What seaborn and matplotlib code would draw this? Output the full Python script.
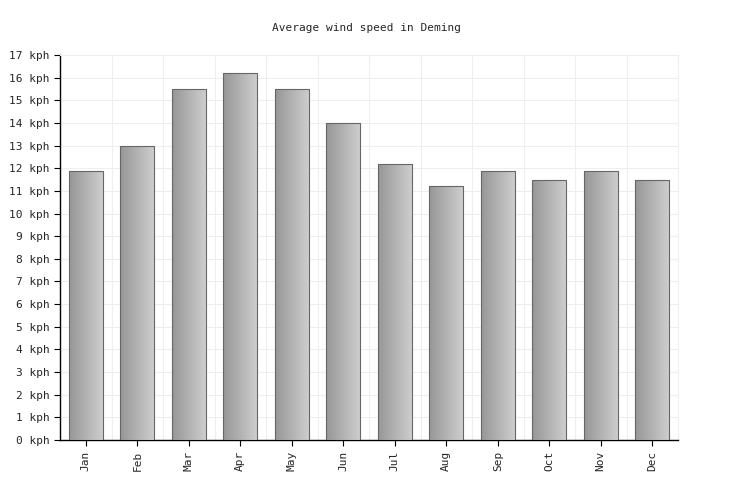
import matplotlib
matplotlib.use("Agg")
import matplotlib.pyplot as plt
import seaborn as sns
import numpy as np
import pandas as pd

months = ['Jan', 'Feb', 'Mar', 'Apr', 'May', 'Jun', 'Jul', 'Aug', 'Sep', 'Oct', 'Nov', 'Dec']
wind_kph = [11.9, 13.0, 15.5, 16.2, 15.5, 14.0, 12.2, 11.2, 11.9, 11.5, 11.9, 11.5]
yticks = list(range(0, 18))

df = pd.DataFrame({'month': months, 'wind': wind_kph})

sns.set_style('white')
plt.rcParams['font.family'] = ['DejaVu Sans Mono']

fig = plt.figure(figsize=(7.36, 5), dpi=100)
ax = fig.add_axes([60 / 736, 60 / 500, 618 / 736, 385 / 500])

sns.barplot(data=df, x='month', y='wind', color='#aaaaaa', width=0.66,
            edgecolor='#666666', linewidth=0.8, ax=ax, zorder=3)

# horizontal gradient inside each bar
grad = np.linspace(0, 1, 64).reshape(1, -1)
cmap = matplotlib.colors.LinearSegmentedColormap.from_list('g', ['#979797', '#cdcdcd'])
for p in ax.patches:
    x0, y0 = p.get_x(), p.get_y()
    w, h = p.get_width(), p.get_height()
    im = ax.imshow(grad, cmap=cmap, aspect='auto', extent=[x0, x0 + w, y0, y0 + h], zorder=3.5)
    im.set_clip_path(p)
    p.set_facecolor('none')
    p.set_zorder(4)

ax.set_xlim(-0.5, len(months) - 0.5)
ax.set_ylim(0, 17)
ax.set_yticks(yticks)
ax.set_yticklabels([f'{v} kph' for v in yticks], fontsize=8)
ax.set_xticks(range(len(months)))
ax.set_xticklabels(months, rotation=90, fontsize=8)
ax.set_xticks(np.arange(0.5, len(months) - 0.5, 1), minor=True)
ax.set_xlabel('')
ax.set_ylabel('')
ax.grid(True, axis='y', color='#eeeeee', linewidth=0.8, zorder=0)
ax.grid(True, axis='x', which='minor', color='#eeeeee', linewidth=0.8, zorder=0)
ax.tick_params(axis='both', which='major', length=4, color='#000000', direction='out', left=True, bottom=True)
ax.tick_params(axis='x', which='minor', length=0)

for s in ['top', 'right']:
    ax.spines[s].set_color('#eeeeee')
for s in ['left', 'bottom']:
    ax.spines[s].set_color('#000000')
    ax.spines[s].set_linewidth(1)

fig.text(367 / 736, 1 - 28 / 500, 'Average wind speed in Deming', ha='center', va='center', fontsize=8)

fig.savefig('out.png', dpi=100)
